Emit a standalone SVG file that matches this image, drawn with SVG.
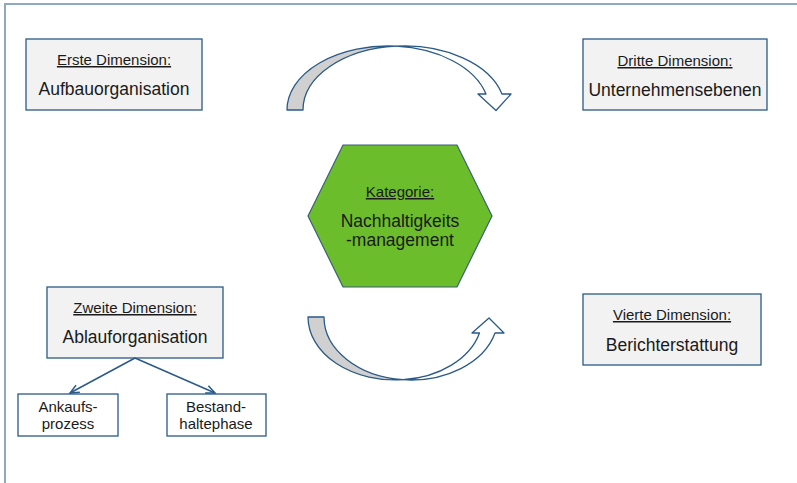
<svg xmlns="http://www.w3.org/2000/svg" width="797" height="483" viewBox="0 0 797 483">
<style>
.box{fill:#f2f2f2;stroke:#2a5a88;stroke-width:1.3}
.sbox{fill:#ffffff;stroke:#2a5a88;stroke-width:1.3}
.t{font-family:"Liberation Sans",Arial,sans-serif;fill:#1a1a1a;text-anchor:middle}
.h{font-size:15px;text-decoration:underline}
.m{font-size:17.5px}
.s{font-size:15px}
.arr{stroke:#2a5a88;stroke-width:1.3;stroke-linejoin:round}
.conn{stroke:#2a5a88;stroke-width:1.5;fill:none}
</style>
<defs>
<marker id="ah" markerWidth="12" markerHeight="10" refX="10" refY="5" orient="auto" markerUnits="userSpaceOnUse">
<path d="M1,1 L10,5 L1,9" fill="none" stroke="#2a5a88" stroke-width="1.5"/>
</marker>
</defs>
<rect width="797" height="483" fill="#ffffff"/>
<path d="M5,483 L5,4 L797,4" fill="none" stroke="#8ea9c1" stroke-width="2"/>

<g id="erste">
<rect class="box" x="26" y="39" width="176" height="71"/>
<text class="t h" x="114" y="65">Erste Dimension:</text>
<text class="t m" x="114" y="95">Aufbauorganisation</text>
</g>
<g id="dritte">
<rect class="box" x="583" y="39" width="184" height="71"/>
<text class="t h" x="675" y="66">Dritte Dimension:</text>
<text class="t m" x="675" y="96">Unternehmensebenen</text>
</g>
<g id="kategorie">
<polygon points="343,145 457,145 492,216 457,287 343,287 308,216" fill="#6cbd2c" stroke="#3a5f7a" stroke-width="1.2"/>
<text class="t h" x="400" y="197">Kategorie:</text>
<text class="t m" x="400" y="227">Nachhaltigkeits</text>
<text class="t m" x="400" y="246">-management</text>
</g>
<g id="zweite">
<rect class="box" x="47" y="287" width="176" height="71"/>
<text class="t h" x="135" y="313">Zweite Dimension:</text>
<text class="t m" x="135" y="343">Ablauforganisation</text>
</g>
<g id="ankauf">
<rect class="sbox" x="18" y="394" width="100" height="42"/>
<text class="t s" x="68" y="412">Ankaufs-</text>
<text class="t s" x="68" y="429">prozess</text>
</g>
<g id="bestand">
<rect class="sbox" x="167" y="394" width="99" height="42"/>
<text class="t s" x="216" y="412">Bestand-</text>
<text class="t s" x="216" y="429">haltephase</text>
</g>
<g id="vierte">
<rect class="box" x="583" y="294" width="178" height="71"/>
<text class="t h" x="672" y="320">Vierte Dimension:</text>
<text class="t m" x="672" y="351">Berichterstattung</text>
</g>

<g id="connectors">
<line class="conn" x1="135" y1="358" x2="70" y2="393" marker-end="url(#ah)"/>
<line class="conn" x1="135" y1="358" x2="215" y2="393" marker-end="url(#ah)"/>
<g id="arrow-top">
<path class="arr" fill="#d0d0d0" d="M287,110 A101 64 0 0 1 396,46.2 A101 64 0 0 0 303,110 Z"/>
<path class="arr" fill="#ffffff" d="M396,46.2 A101 64 0 0 1 502,94 L511,94 L496,110.5 L478,94 L486,94 A101 64 0 0 0 396,46.2 Z"/>
</g>
<g id="arrow-bottom">
<path class="arr" fill="#d0d0d0" d="M308,317 A87 63 0 0 0 403,379.7 A87 63 0 0 1 324,317 Z"/>
<path class="arr" fill="#ffffff" d="M403,379.7 A87 63 0 0 0 495,333 L504,333 L489,318 L472,333 L479.5,333 A87 63 0 0 1 403,379.7 Z"/>
</g>
</g>
</svg>
